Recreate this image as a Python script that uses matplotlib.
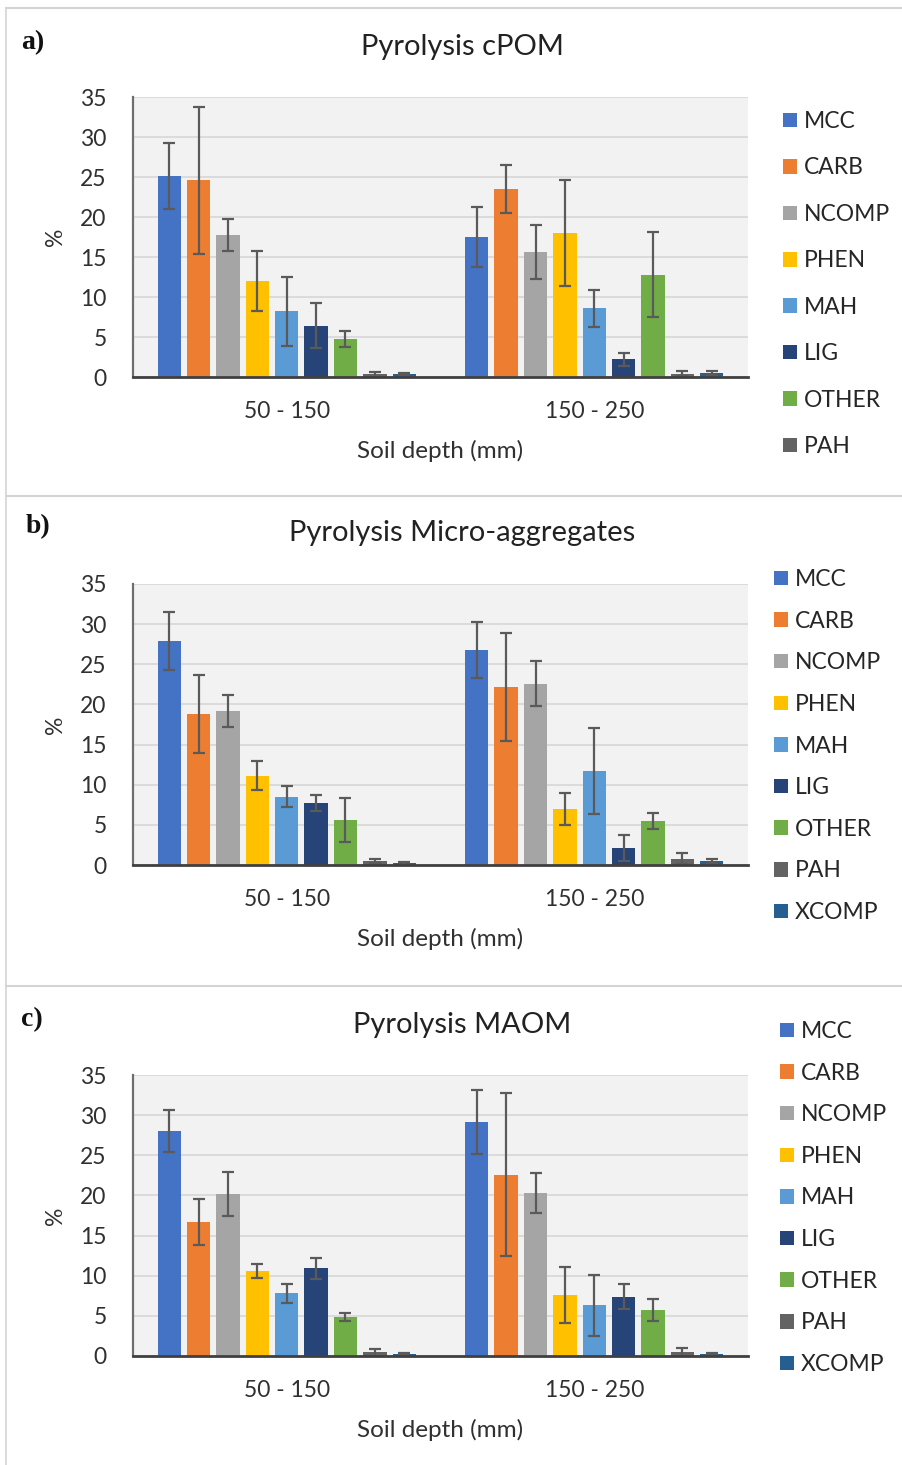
import numpy as np
import matplotlib
matplotlib.use("Agg")
import matplotlib.pyplot as plt
from matplotlib.lines import Line2D

plt.rcParams['font.family'] = ['Lato', 'DejaVu Sans']

# ---- data -------------------------------------------------------------
depths = ["50 - 150", "150 - 250"]
compounds = ["MCC", "CARB", "NCOMP", "PHEN", "MAH", "LIG", "OTHER", "PAH", "XCOMP"]
colors = ["#4472C4", "#ED7D31", "#A5A5A5", "#FFC000", "#5B9BD5",
          "#264478", "#70AD47", "#636363", "#255E91"]

# Pyrolysis cPOM (mean, sd) per depth
cpom_mean_50 = [25.1, 24.6, 17.7, 12.0, 8.2, 6.4, 4.7, 0.35, 0.35]
cpom_sd_50 = [4.1, 9.2, 2.0, 3.8, 4.3, 2.8, 1.0, 0.3, 0.15]
cpom_mean_150 = [17.5, 23.5, 15.6, 18.0, 8.6, 2.2, 12.8, 0.4, 0.5]
cpom_sd_150 = [3.7, 3.0, 3.4, 6.6, 2.3, 0.8, 5.3, 0.3, 0.3]

# Pyrolysis micro-aggregates
micro_mean_50 = [27.9, 18.8, 19.2, 11.1, 8.5, 7.7, 5.6, 0.5, 0.2]
micro_sd_50 = [3.6, 4.9, 2.0, 1.8, 1.3, 1.0, 2.7, 0.25, 0.2]
micro_mean_150 = [26.8, 22.2, 22.6, 7.0, 11.7, 2.1, 5.5, 0.8, 0.5]
micro_sd_150 = [3.5, 6.7, 2.8, 2.0, 5.4, 1.6, 1.0, 0.65, 0.3]

# Pyrolysis MAOM
maom_mean_50 = [28.0, 16.7, 20.2, 10.6, 7.8, 10.9, 4.85, 0.45, 0.25]
maom_sd_50 = [2.6, 2.9, 2.7, 0.9, 1.2, 1.3, 0.45, 0.4, 0.1]
maom_mean_150 = [29.1, 22.6, 20.3, 7.55, 6.3, 7.4, 5.7, 0.45, 0.25]
maom_sd_150 = [4.0, 10.1, 2.5, 3.5, 3.8, 1.6, 1.4, 0.55, 0.15]

yticks = [0, 5, 10, 15, 20, 25, 30, 35]

panels = [
    ("a)", "Pyrolysis cPOM",
     [cpom_mean_50, cpom_mean_150], [cpom_sd_50, cpom_sd_150], 8),
    ("b)", "Pyrolysis Micro-aggregates",
     [micro_mean_50, micro_mean_150], [micro_sd_50, micro_sd_150], 9),
    ("c)", "Pyrolysis MAOM",
     [maom_mean_50, maom_mean_150], [maom_sd_50, maom_sd_150], 9),
]

# ---- layout (pixels) --------------------------------------------------
W, H = 902, 1465
fig = plt.figure(figsize=(W / 100, H / 100), dpi=100)
fig.patch.set_facecolor("white")

def fx(x):
    return x / W

def fy(y):
    return 1 - y / H

axes_px = [(133, 97, 748, 377), (133, 584, 748, 865), (133, 1075, 748, 1356)]
title_y = [47, 533, 1025]
label_xy = [(21, 43), (26, 527), (21, 1020)]
legend_xy = [(783, 111), (774, 569), (780, 1021)]
legend_spacing = [1.11, 0.90, 0.90]

TXT = "#303030"

# panel frame lines
frame = "#D4D4D4"
fig.add_artist(Line2D([fx(5.5), fx(5.5)], [fy(8), fy(H)], color=frame, lw=1.2,
                      transform=fig.transFigure))
for yy in (8, 495.5, 985.5):
    fig.add_artist(Line2D([fx(5.5), fx(W)], [fy(yy), fy(yy)], color=frame, lw=1.5,
                          transform=fig.transFigure))

slot = 0.0955
width = 0.076
x = np.arange(len(depths))
offsets = (np.arange(len(compounds)) - (len(compounds) - 1) / 2) * slot

for i, (tag, title, means, sds, n_leg) in enumerate(panels):
    l, t, r, b = axes_px[i]
    ax = fig.add_axes([fx(l), fy(b), (r - l) / W, (b - t) / H])
    ax.set_facecolor("#F2F2F2")
    ax.set_axisbelow(True)
    ax.yaxis.grid(True, color="#D9D9D9", lw=1.3)
    bars = []
    for k, comp in enumerate(compounds):
        vals = [means[0][k], means[1][k]]
        errs = [sds[0][k], sds[1][k]]
        bc = ax.bar(x + offsets[k], vals, width, yerr=errs, color=colors[k],
                    label=comp,
                    error_kw=dict(ecolor="#5A5A5A", elinewidth=1.6,
                                  capsize=4.5, capthick=1.6))
        bars.append(bc)
    ax.set_xlim(-0.5, 1.5)
    ax.set_ylim(0, 35)
    ax.set_yticks(yticks)
    ax.set_xticks(x)
    ax.set_xticklabels(depths)
    ax.tick_params(axis="both", length=0, labelsize=16.5, colors=TXT)
    ax.tick_params(axis="y", pad=19)
    ax.tick_params(axis="x", pad=17)
    for s in ("top", "right"):
        ax.spines[s].set_visible(False)
    ax.spines["left"].set_color("#6E6E6E")
    ax.spines["left"].set_linewidth(1.6)
    ax.spines["bottom"].set_color("#404040")
    ax.spines["bottom"].set_linewidth(2.0)
    ax.set_ylabel("%", fontsize=16.5, color=TXT, labelpad=10)
    ax.set_xlabel("Soil depth (mm)", fontsize=17.5, color=TXT, labelpad=13)

    fig.text(fx(462), fy(title_y[i]), title, ha="center", va="center",
             fontsize=21, color="#222222")
    fig.text(fx(label_xy[i][0]), fy(label_xy[i][1]), tag, ha="left", va="center",
             fontsize=20, fontweight="bold", family="Liberation Serif",
             color="#111111")

    lx, ly = legend_xy[i]
    ax.legend(handles=bars[:n_leg], loc="upper left",
              bbox_to_anchor=(fx(lx), fy(ly)), bbox_transform=fig.transFigure,
              frameon=False, fontsize=16.5, handlelength=0.6, handleheight=0.6,
              handletextpad=0.3, labelspacing=legend_spacing[i], borderpad=0,
              borderaxespad=0, labelcolor="#262626")

fig.savefig("out.png", dpi=100, facecolor="white")
